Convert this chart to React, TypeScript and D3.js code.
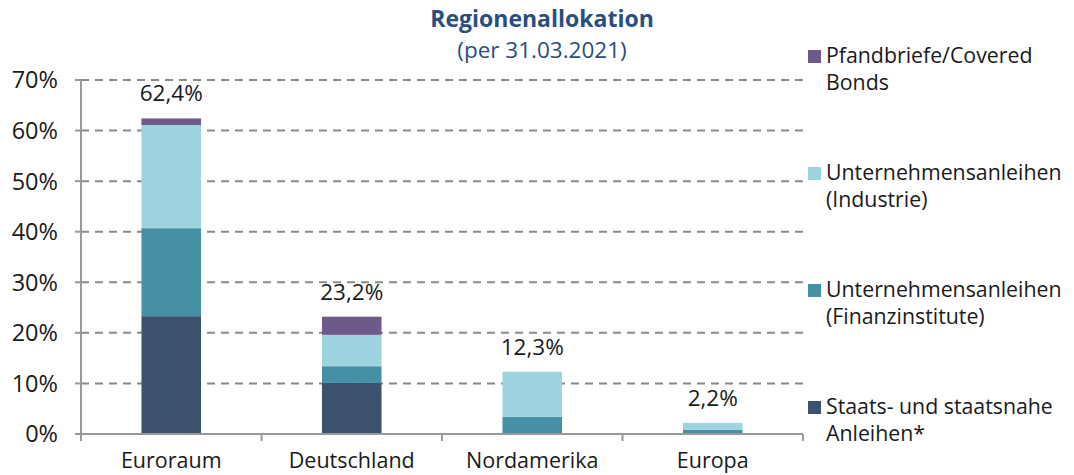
import React from "react";
import * as d3 from "d3";

const categories = ["Euroraum", "Deutschland", "Nordamerika", "Europa"];
const seriesNames = [
  "Staats- und staatsnahe Anleihen*",
  "Unternehmensanleihen (Finanzinstitute)",
  "Unternehmensanleihen (Industrie)",
  "Pfandbriefe/Covered Bonds",
];
const staats = [23.3, 10.1, 0, 0];
const finanz = [17.4, 3.3, 3.4, 0.8];
const industrie = [20.4, 6.2, 8.9, 1.4];
const pfand = [1.3, 3.6, 0, 0];
const totalLabels = ["62,4%", "23,2%", "12,3%", "2,2%"];
const yTicks = [0, 10, 20, 30, 40, 50, 60, 70];
const colors = ["#3d526f", "#4690a6", "#a0d3e0", "#6e5a8a"];
const legendLines = [
  ["Pfandbriefe/Covered", "Bonds"],
  ["Unternehmensanleihen", "(Industrie)"],
  ["Unternehmensanleihen", "(Finanzinstitute)"],
  ["Staats- und staatsnahe", "Anleihen*"],
];
const legendColors = ["#6e5a8a", "#a0d3e0", "#4690a6", "#3d526f"];

const W = 1074, H = 475;
const left = 81, right = 803, top = 80, bottom = 434;
const font = "'Open Sans', 'Noto Sans', sans-serif";

export default function App() {
  const x = d3.scaleBand().domain(categories).range([left, right]).paddingInner(0.67).paddingOuter(0.335);
  const xb = d3.scaleBand().domain(categories).range([left, right]);
  const y = d3.scaleLinear().domain([0, 70]).range([bottom, top]);
  const data = categories.map((c, i) => ({ cat: c, s0: staats[i], s1: finanz[i], s2: industrie[i], s3: pfand[i] }));
  const stack = d3.stack<any>().keys(["s0", "s1", "s2", "s3"])(data);
  const txt = "#1a1a1a";
  return (
    <svg width={W} height={H} style={{ position: "absolute", left: 0, top: 0 }} fontFamily={font}>
      <rect width={W} height={H} fill="#fff" />
      <text x={542} y={27} textAnchor="middle" fontSize={23} fontWeight="bold" fill="#2a4e7f">Regionenallokation</text>
      <text x={542} y={58} textAnchor="middle" fontSize={22.5} fill="#2a4e7f">(per 31.03.2021)</text>
      {yTicks.map((t) => (
        <g key={t}>
          {t > 0 && (
            <line x1={left} x2={right + 5} y1={y(t)} y2={y(t)} stroke="#8a8a8a" strokeWidth={2} strokeDasharray="8,6" />
          )}
          <line x1={left - 6} x2={left} y1={y(t)} y2={y(t)} stroke="#999" strokeWidth={2} />
          <text x={58} y={y(t)} dy="0.36em" textAnchor="end" fontSize={23.5} fill={txt}>{t}%</text>
        </g>
      ))}
      {stack.map((layer, li) =>
        layer.map((d, i) =>
          d[1] - d[0] > 0 ? (
            <rect key={li + "-" + i} x={x(categories[i])} width={x.bandwidth()} y={y(d[1])} height={y(d[0]) - y(d[1])} fill={colors[li]} />
          ) : null
        )
      )}
      <line x1={left} x2={left} y1={top} y2={bottom} stroke="#999" strokeWidth={2} />
      <line x1={left} x2={right} y1={bottom} y2={bottom} stroke="#999" strokeWidth={2} />
      {categories.concat(["end"]).map((c, i) => {
        const xx = i < categories.length ? (xb(c) as number) : right;
        return <line key={c} x1={xx} x2={xx} y1={bottom} y2={bottom + 7} stroke="#999" strokeWidth={2} />;
      })}
      {categories.map((c, i) => {
        const tot = staats[i] + finanz[i] + industrie[i] + pfand[i];
        const cx = (x(c) as number) + x.bandwidth() / 2;
        return (
          <g key={c}>
            <text x={cx} y={y(tot) - 17} textAnchor="middle" fontSize={22.5} fill={txt}>{totalLabels[i]}</text>
            <text x={(xb(c) as number) + xb.bandwidth() / 2} y={468} textAnchor="middle" fontSize={21.5} fill={txt}>{c}</text>
          </g>
        );
      })}
      {legendLines.map((lines, i) => {
        const baseY = [63, 180, 297, 414][i];
        return (
          <g key={i}>
            <rect x={808} y={baseY - 13} width={13} height={13} fill={legendColors[i]} />
            <text x={826} y={baseY} fontSize={21.3} fill={txt}>{lines[0]}</text>
            <text x={826} y={baseY + 27} fontSize={21.3} fill={txt}>{lines[1]}</text>
          </g>
        );
      })}
    </svg>
  );
}
